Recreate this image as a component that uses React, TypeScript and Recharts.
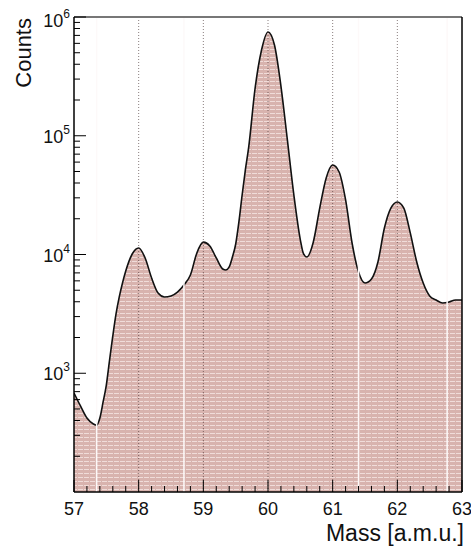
import React from 'react';
import { AreaChart, Area, XAxis, YAxis, ReferenceLine } from 'recharts';

// mass bins [a.m.u.] and counts
const MASS = [
  57.0, 57.1, 57.2, 57.3, 57.35, 57.4, 57.45, 57.5, 57.55, 57.6, 57.65, 57.7, 57.75, 57.8, 57.9,
  58.0, 58.1, 58.2, 58.3, 58.4, 58.5, 58.6, 58.7, 58.8, 58.9,
  59.0, 59.1, 59.2, 59.3, 59.35, 59.4, 59.45, 59.5, 59.55, 59.6, 59.65, 59.7, 59.8, 59.9,
  60.0, 60.1, 60.2, 60.3, 60.4, 60.5, 60.55, 60.6, 60.7, 60.8, 60.9,
  61.0, 61.1, 61.2, 61.3, 61.4, 61.5, 61.6, 61.7, 61.8, 61.9,
  62.0, 62.1, 62.2, 62.3, 62.4, 62.5, 62.6, 62.7, 62.8, 62.9, 63.0,
];
const COUNTS = [
  682, 530, 420, 374, 366, 420, 573, 796, 1290, 2060, 3160, 4390, 5750, 7260, 10100,
  11350, 9350, 6340, 4740, 4390, 4480, 4830, 5540, 6720, 10300,
  12700, 11800, 9350, 7550, 7400, 7850, 9530, 12200, 18800, 31700, 51500, 78900, 250000, 527000,
  748000, 581000, 262000, 92000, 31700, 13300, 10100, 9530, 12700, 24600, 44100,
  56700, 49500, 28800, 12500, 7120, 5750, 6220, 8650, 16700, 24600,
  27700, 24600, 15200, 8650, 5750, 4480, 4140, 3910, 3980, 4140, 4140,
];

const X_TICKS = [
  57, 57.2, 57.4, 57.6, 57.8, 58, 58.2, 58.4, 58.6, 58.8, 59, 59.2, 59.4, 59.6, 59.8,
  60, 60.2, 60.4, 60.6, 60.8, 61, 61.2, 61.4, 61.6, 61.8, 62, 62.2, 62.4, 62.6, 62.8, 63,
];
const X_MAJOR = [57, 58, 59, 60, 61, 62, 63];
const GRID_X = [58, 59, 60, 61, 62];
const DECADES = [100, 1000, 10000, 100000];
const MULTS = [1, 2, 3, 4, 5, 6, 7, 8, 9];
const Y_MAJOR = [1000, 10000, 100000, 1000000];
const Y_TICKS = [...DECADES.flatMap((d) => MULTS.map((m) => d * m)).filter((v) => v > 100), 1000000];
// light streaks in the fill of the original render
const STREAK_X = [57.35, 58.7, 61.4, 62.77];

const data = MASS.map((m, i) => ({ mass: m, counts: COUNTS[i] }));

const FONT = '"Liberation Sans", Arial, Helvetica, sans-serif';

const XTick = (props: any) => {
  const { x, y, payload } = props;
  const major = X_MAJOR.includes(payload.value);
  return (
    <g>
      <line x1={x} x2={x} y1={y} y2={y - (major ? 12 : 6)} stroke="#000" strokeWidth={1} />
      {major && (
        <text x={x} y={y + 23} textAnchor="middle" fontSize={18} fontFamily={FONT} fill="#111">
          {payload.value}
        </text>
      )}
    </g>
  );
};

const YTick = (props: any) => {
  const { x, y, payload } = props;
  const major = Y_MAJOR.includes(payload.value);
  const exp = Math.round(Math.log10(payload.value));
  return (
    <g>
      <line x1={x} x2={x + (major ? 12 : 6)} y1={y} y2={y} stroke="#000" strokeWidth={1} />
      {major && (
        <text x={x - 4} y={y + (exp === 6 ? 10 : 7)} textAnchor="end" fontSize={18} fontFamily={FONT} fill="#111">
          <tspan>10</tspan>
          <tspan dy={-9} fontSize={12}>{exp}</tspan>
        </text>
      )}
    </g>
  );
};

export default function App() {
  return (
    <div style={{ position: 'absolute', left: 0, top: 0, width: 471, height: 547, background: '#fff' }}>
      <svg width={0} height={0} style={{ position: 'absolute' }}>
        <defs>
          <pattern id="hatch" patternUnits="userSpaceOnUse" width={6} height={4}>
            <rect x={0} y={0} width={6} height={4} fill="#d8b3ae" />
            <rect x={0} y={1} width={5} height={1} fill="#f0dcd9" />
          </pattern>
        </defs>
      </svg>
      <AreaChart width={471} height={547} data={data} margin={{ top: 17, right: 9, bottom: 25, left: 0 }}>
        <XAxis
          dataKey="mass"
          type="number"
          domain={[57, 63]}
          ticks={X_TICKS}
          interval={0}
          tickSize={0}
          tickMargin={0}
          tickLine={false}
          tick={<XTick />}
          axisLine={{ stroke: '#000', strokeWidth: 1.5 }}
          height={30}
          allowDataOverflow
        />
        <YAxis
          type="number"
          scale="log"
          domain={[100, 1000000]}
          ticks={Y_TICKS}
          interval={0}
          tickSize={0}
          tickMargin={0}
          tickLine={false}
          tick={<YTick />}
          axisLine={{ stroke: '#000', strokeWidth: 1.5 }}
          width={74}
          allowDataOverflow
        />
        <Area
          type="monotone"
          dataKey="counts"
          baseValue={100}
          stroke="#111"
          strokeWidth={1.6}
          fill="url(#hatch)"
          fillOpacity={1}
          dot={false}
          activeDot={false}
          isAnimationActive={false}
        />
        {STREAK_X.map((v) => (
          <ReferenceLine key={'s' + v} x={v} stroke="#fdf9f9" strokeWidth={1.5} />
        ))}
        {GRID_X.map((v) => (
          <ReferenceLine key={'g' + v} x={v} stroke="rgba(60,40,40,0.6)" strokeWidth={1} strokeDasharray="1 2" />
        ))}
        <ReferenceLine y={1000000} stroke="#777" strokeWidth={2} />
        <ReferenceLine x={63} stroke="#000" strokeWidth={1.5} />
      </AreaChart>
      <svg width={471} height={547} style={{ position: 'absolute', left: 0, top: 0, pointerEvents: 'none' }}>
        <text transform="translate(31,18) rotate(-90)" textAnchor="end" fontSize={22} fontFamily={FONT} fill="#111">
          Counts
        </text>
        <text x={464} y={541} textAnchor="end" fontSize={23} fontFamily={FONT} fill="#111">
          Mass [a.m.u.]
        </text>
      </svg>
    </div>
  );
}
